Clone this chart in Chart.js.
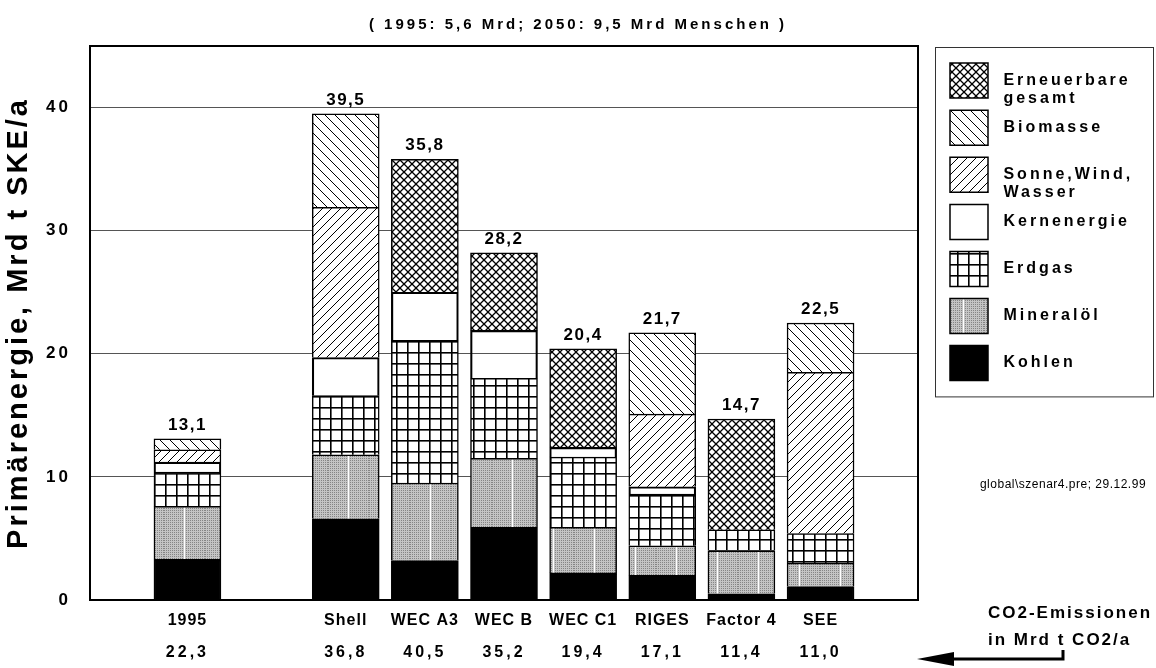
<!DOCTYPE html>
<html>
<head>
<meta charset="utf-8">
<script src="https://cdn.jsdelivr.net/npm/chart.js@4.4.0/dist/chart.umd.min.js"></script>
<style>
  html, body { margin: 0; padding: 0; background: #fff; }
</style>
</head>
<body>
<canvas id="chart" width="1156" height="668"></canvas>
<script>
// categories (slot 1 is the empty gap between 1995 and the scenarios)
const categories = ["1995", "", "Shell", "WEC A3", "WEC B", "WEC C1", "RIGES", "Factor 4", "SEE"];
const totals = [13.1, null, 39.5, 35.8, 28.2, 20.4, 21.7, 14.7, 22.5];
const co2 = [22.3, null, 36.8, 40.5, 35.2, 19.4, 17.1, 11.4, 11.0];

// Mrd t SKE/a, bottom to top
const kohlen     = [3.3, null, 6.6, 3.2, 5.9, 2.2, 2.0, 0.5, 1.1];
const mineraloel = [4.3, null, 5.2, 6.3, 5.6, 3.7, 2.4, 3.5, 1.9];
const erdgas     = [2.8, null, 4.8, 11.6, 6.5, 5.7, 4.2, 1.7, 2.4];
const kern       = [0.8, null, 3.1, 3.9, 3.9, 0.8, 0.6, null, null];
const sonneWind  = [1.0, null, 12.2, null, null, null, 5.9, null, 13.1];
const biomasse   = [0.9, null, 7.6, null, null, null, 6.6, null, 4.0];
const erneuerbar = [null, null, null, 10.8, 6.3, 8.0, null, 9.0, null];

const yTicks = [0, 10, 20, 30, 40];

const FONT = "'Liberation Sans', Arial, sans-serif";
const fmt = v => v.toFixed(1).replace(".", ",");

/* ---------- fill patterns ---------- */
function makeTile(w, h, draw) {
    const c = document.createElement("canvas");
    c.width = w;
    c.height = h;
    const g = c.getContext("2d");
    g.fillStyle = "#fff";
    g.fillRect(0, 0, w, h);
    g.strokeStyle = "#000";
    draw(g, w, h);
    return document.getElementById("chart").getContext("2d").createPattern(c, "repeat");
}

function diag(g, s, up, lw) {
    g.lineWidth = lw;
    g.beginPath();
    for (let k = -s; k <= s; k += s) {
        if (up) { g.moveTo(k, s); g.lineTo(k + s, 0); }
        else { g.moveTo(k, 0); g.lineTo(k + s, s); }
    }
    g.stroke();
}

const patCross = makeTile(8, 8, g => { diag(g, 8, true, 1.3); diag(g, 8, false, 1.3); });
const patBio = makeTile(10, 10, g => diag(g, 10, false, 1));
const patSun = makeTile(9, 9, g => diag(g, 9, true, 1));
const patGas = makeTile(11, 11, g => {
    g.fillStyle = "#000";
    g.fillRect(0, 0, 1.6, 11);
    g.fillRect(0, 0, 11, 1.6);
});
const patOil = makeTile(41, 4, g => {
    for (let x = 0; x < 41; x++) {
        for (let y = 0; y < 4; y++) {
            g.fillStyle = (x % 2 === 0 && y % 2 === 0) ? "#858585" : "#c4c4c4";
            g.fillRect(x, y, 1, 1);
        }
    }
    g.fillStyle = "#fff";
    g.fillRect(20, 0, 1, 4);
});

const legendLines = {
    "Erneuerbare gesamt": [" Erneuerbare", " gesamt"],
    "Sonne,Wind, Wasser": [" Sonne,Wind,", " Wasser"]
};

function series(label, values, fill) {
    return {
        label: label,
        data: values.map((v, i) => ({ x: i, y: v })),
        backgroundColor: fill,
        borderColor: "#000",
        borderWidth: 1.5,
        barThickness: 67,
        stack: "s"
    };
}

const slotTicks = s => { s.ticks = categories.map((c, i) => ({ value: i })); };

/* ---------- extra drawing ---------- */
const extras = {
    id: "extras",
    afterInit(chart) {
        const lg = chart.legend;
        const fit = lg.fit;
        lg.fit = function () { fit.call(this); this.width = 218; };
    },
    beforeDraw(chart) {
        chart.ctx.letterSpacing = "3px";
    },
    beforeDatasetsDraw(chart) {
        const { ctx, chartArea: a } = chart;
        ctx.save();
        ctx.strokeStyle = "#000";
        ctx.lineWidth = 2;
        ctx.strokeRect(a.left, a.top, a.right - a.left, a.bottom - a.top);
        ctx.restore();
    },
    afterDatasetsDraw(chart) {
        chart.ctx.letterSpacing = "1px";
    },
    afterDraw(chart) {
        const ctx = chart.ctx;
        const xs = chart.scales.x, ys = chart.scales.y;
        ctx.save();

        // totals above the bars
        ctx.letterSpacing = "1.5px";
        ctx.fillStyle = "#000";
        ctx.font = "bold 17px " + FONT;
        ctx.textAlign = "center";
        ctx.textBaseline = "bottom";
        totals.forEach((t, i) => {
            if (t === null) return;
            ctx.fillText(fmt(t), xs.getPixelForValue(i), ys.getPixelForValue(t) - 5);
        });

        // legend frame
        const lg = chart.legend;
        const hb = lg.legendHitBoxes;
        const last = hb[hb.length - 1];
        ctx.strokeStyle = "#333";
        ctx.lineWidth = 1;
        ctx.strokeRect(lg.left - 2.5, lg.top + 1.5, 218, last.top + last.height + 15 - lg.top);

        // file note
        ctx.letterSpacing = "0.5px";
        ctx.font = "12px " + FONT;
        ctx.textBaseline = "middle";
        ctx.fillText("global\\szenar4.pre; 29.12.99", 1063, 485);

        // CO2 note with arrow
        ctx.letterSpacing = "2px";
        ctx.font = "bold 17px " + FONT;
        ctx.textAlign = "left";
        ctx.fillText("CO2-Emissionen", 988, 613);
        ctx.fillText("in Mrd t CO2/a", 988, 640);
        ctx.lineWidth = 3;
        ctx.strokeStyle = "#000";
        ctx.beginPath();
        ctx.moveTo(1063, 650);
        ctx.lineTo(1063, 659);
        ctx.lineTo(950, 659);
        ctx.stroke();
        ctx.beginPath();
        ctx.moveTo(917, 659);
        ctx.lineTo(954, 652);
        ctx.lineTo(954, 666);
        ctx.closePath();
        ctx.fill();

        ctx.restore();
        ctx.letterSpacing = "0px";
    }
};

new Chart(document.getElementById("chart"), {
    type: "bar",
    data: {
        datasets: [
            series("Kohlen", kohlen, "#000"),
            series("Mineralöl", mineraloel, patOil),
            series("Erdgas", erdgas, patGas),
            series("Kernenergie", kern, "rgba(255,255,255,0)"),
            series("Sonne,Wind, Wasser", sonneWind, patSun),
            series("Biomasse", biomasse, patBio),
            series("Erneuerbare gesamt", erneuerbar, patCross)
        ]
    },
    options: {
        responsive: false,
        animation: false,
        events: [],
        layout: { padding: 0 },
        plugins: {
            tooltip: { enabled: false },
            title: {
                display: true,
                text: "( 1995: 5,6 Mrd; 2050: 9,5 Mrd Menschen )",
                color: "#000",
                font: { family: FONT, size: 15, weight: "bold" },
                padding: { top: 16, bottom: 12 }
            },
            legend: {
                position: "right",
                align: "start",
                fullSize: false,
                reverse: true,
                title: { display: true, text: "", padding: 0, font: { size: 5, lineHeight: 1 } },
                labels: {
                    boxWidth: 38,
                    boxHeight: 35,
                    padding: 12,
                    color: "#000",
                    font: { family: FONT, size: 16, weight: "bold", lineHeight: 1.1 },
                    generateLabels(chart) {
                        const items = Chart.defaults.plugins.legend.labels.generateLabels(chart);
                        items.forEach(it => { it.text = legendLines[it.text] || " " + it.text; });
                        return items;
                    }
                }
            }
        },
        scales: {
            x: {
                type: "linear",
                stacked: true,
                min: -0.65,
                max: 8.65,
                grid: { display: false, drawTicks: false },
                border: { display: false },
                afterBuildTicks: slotTicks,
                ticks: {
                    z: 1,
                    autoSkip: false,
                    maxRotation: 0,
                    padding: 11,
                    color: "#000",
                    font: { family: FONT, size: 16, weight: "bold" },
                    callback: v => categories[v] || ""
                },
                afterFit(s) { s.height = 34; }
            },
            x2: {
                type: "linear",
                position: "bottom",
                weight: 1,
                min: -0.65,
                max: 8.65,
                grid: { display: false, drawTicks: false },
                border: { display: false },
                afterBuildTicks: slotTicks,
                ticks: {
                    autoSkip: false,
                    maxRotation: 0,
                    padding: 9,
                    color: "#000",
                    font: { family: FONT, size: 16, weight: "bold" },
                    callback: v => (co2[v] != null ? fmt(co2[v]) : "")
                },
                afterFit(s) { s.height = 34; }
            },
            y: {
                stacked: true,
                min: 0,
                max: 45,
                afterBuildTicks(s) { s.ticks = yTicks.map(v => ({ value: v })); },
                grid: { color: "#555", lineWidth: 1, drawTicks: false },
                border: { display: false },
                ticks: {
                    padding: 19,
                    color: "#000",
                    font: { family: FONT, size: 17, weight: "bold" }
                },
                title: {
                    display: true,
                    text: "Primärenergie, Mrd t SKE/a",
                    color: "#000",
                    font: { family: FONT, size: 29, weight: "bold" },
                    padding: { top: 2, bottom: 0 }
                },
                afterFit(s) { s.width = 90; }
            },
            y2: {
                position: "right",
                grid: { display: false },
                border: { display: false },
                ticks: { display: false },
                afterFit(s) { s.width = 20; }
            }
        }
    },
    plugins: [extras]
});
</script>
</body>
</html>
